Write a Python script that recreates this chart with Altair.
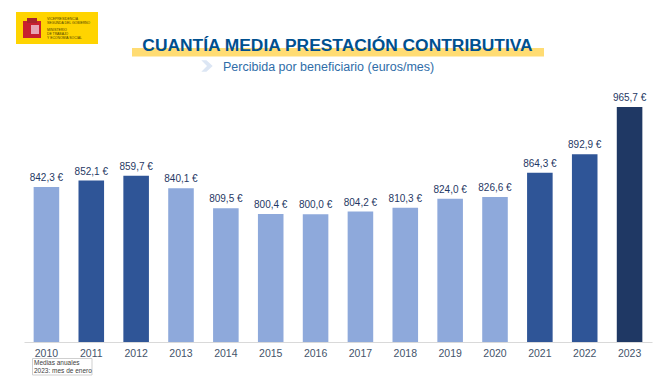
import altair as alt
import pandas as pd

years = ["2010","2011","2012","2013","2014","2015","2016","2017","2018","2019","2020","2021","2022","2023"]
values = [842.3,852.1,859.7,840.1,809.5,800.4,800.0,804.2,810.3,824.0,826.6,864.3,892.9,965.7]
labels = ["842,3 €","852,1 €","859,7 €","840,1 €","809,5 €","800,4 €","800,0 €","804,2 €","810,3 €","824,0 €","826,6 €","864,3 €","892,9 €","965,7 €"]
groups = ["a","b","b","a","a","a","a","a","a","a","a","b","b","c"]
group_names = ["a","b","c"]
group_colors = ["#8EA9DB","#2F5597","#1F3864"]
axis_floor = 603

title = "CUANTÍA MEDIA PRESTACIÓN CONTRIBUTIVA"
subtitle = "Percibida por beneficiario (euros/mes)"
note = ["Medias  anuales", "2023:  mes de enero"]
logo_lines = ["VICEPRESIDENCIA", "SEGUNDA DEL GOBIERNO", "", "MINISTERIO", "DE TRABAJO", "Y ECONOMÍA SOCIAL"]

OX, OY = 24, 96  # page position of the plot origin
FONT = "Liberation Sans"
PLOT_H = 246
df = pd.DataFrame({"year": years, "value": values, "label": labels, "group": groups, "base": axis_floor})
one = pd.DataFrame({"k": [0]})

def px(v): return alt.value(v - OX)
def py(v): return alt.value(v - OY)

def rect(x0, y0, x1, y1, color, **kw):
    return alt.Chart(one).mark_rect(fill=color, **kw).encode(x=px(x0), x2=px(x1), y=py(y0), y2=py(y1))

def text(s, x, y, **kw):
    return alt.Chart(one).mark_text(text=s, font=FONT, **kw).encode(x=px(x), y=py(y))

xs = alt.X("year:N", sort=years, title=None,
           scale=alt.Scale(paddingInner=0.43, paddingOuter=0.215),
           axis=alt.Axis(labelAngle=0, labelColor="#44546A", labelFont=FONT, labelFontSize=10.5,
                         labelPadding=6, ticks=False, domainColor="#D9D9D9", domainWidth=1, grid=False))
ys = alt.Y("value:Q", title=None, axis=None, scale=alt.Scale(domain=[axis_floor, 982.6], nice=False, zero=False))

bars = alt.Chart(df).mark_bar().encode(
    x=xs, y=ys, y2="base:Q",
    color=alt.Color("group:N", legend=None, scale=alt.Scale(domain=group_names, range=group_colors)))
vals = alt.Chart(df).mark_text(baseline="bottom", dy=-4, font=FONT, fontSize=10, color="#1F3864").encode(
    x=alt.X("year:N", sort=years), y="value:Q", text="label:N")

layers = [bars, vals,
    rect(16, 12, 98, 44, "#FFD400"),
    rect(23, 21, 41, 38, "#C8202F"),
    rect(27, 18, 37, 23, "#A8252B"),
    rect(31, 25, 39, 34, "#E6A4B4"),
    rect(132, 48, 544, 56.5, "#FFDC73"),
    text(title, 337.5, 46, fontSize=17.4, fontWeight="bold", color="#00508F", align="center", baseline="middle"),
    alt.Chart(one).mark_point(filled=True, opacity=1, color="#DCE6F4",
        shape="M-1,-1 L-0.1,-1 L1,0 L-0.1,1 L-1,1 L0,0 Z", size=130).encode(x=px(207), y=py(66)),
    text(subtitle, 223, 67, fontSize=12.5, color="#2F6DA8", align="left", baseline="middle"),
    rect(32.5, 358.5, 92, 375, "#FFFFFF", stroke="#CFCFCF", strokeWidth=1),
    text(note[0], 34, 363, fontSize=6.5, color="#404040", align="left", baseline="middle"),
    text(note[1], 34, 371, fontSize=6.5, color="#404040", align="left", baseline="middle"),
]
for s, y in zip(logo_lines, [18.5, 22.5, 26, 30, 34, 38]):
    if s:
        layers.append(text(s, 47, y, fontSize=3.4, color="#4A3B00", align="left", baseline="middle"))

chart = alt.layer(*layers).properties(
    width=628, height=PLOT_H,
    autosize=alt.AutoSizeParams(type="none"),
    padding={"left": 16, "top": 88, "right": 10, "bottom": 34},
    background="white",
).configure_view(stroke=None)

chart.save("out.html", embed_options={"renderer": "svg", "actions": False})
